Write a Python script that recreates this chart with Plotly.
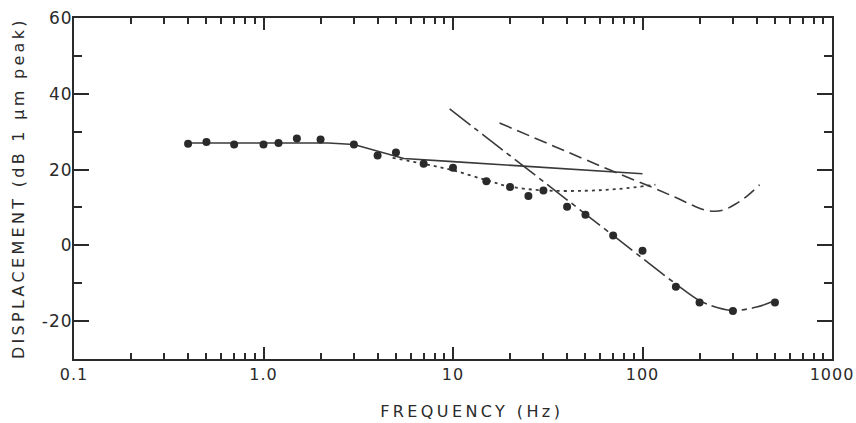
import plotly.graph_objects as go

# Measured points (frequency in Hz, displacement in dB re 1 um peak)
freq_pts = [0.4, 0.5, 0.7, 1.0, 1.2, 1.5, 2.0, 3.0, 4.0, 5.0, 7.0, 10, 15, 20, 25,
            30, 40, 50, 70, 100, 150, 200, 300, 500]
disp_pts = [26.8, 27.3, 26.6, 26.6, 27.0, 28.2, 27.9, 26.6, 23.7, 24.5, 21.5, 20.5,
            16.9, 15.4, 13.0, 14.5, 10.2, 8.1, 2.6, -1.4, -10.9, -15.1, -17.3, -15.1]

# Solid curve
solid_f = [0.4, 2.2, 3.0, 4.0, 5.5, 10, 28, 100]
solid_y = [27.0, 27.0, 26.6, 24.8, 22.9, 22.1, 20.7, 18.9]

# Dotted curve
dot_f = [4.8, 7.0, 10, 15, 20, 30, 50, 75, 117]
dot_y = [23.1, 21.5, 19.8, 17.2, 15.5, 14.5, 14.4, 14.9, 16.0]

# Dash-dot fit curve
fit_f = [9.6, 70, 150, 200, 250, 300, 400, 510]
fit_y = [36.0, 2.6, -10.2, -14.6, -16.5, -17.2, -16.3, -14.4]

# Long-dash curve
ld_f = [17.6, 68, 110, 150, 185, 215, 240, 270, 310, 360, 415]
ld_y = [32.3, 19.8, 15.5, 12.6, 10.5, 9.3, 9.0, 9.4, 10.9, 13.2, 16.0]

x_tickvals = [0.1, 1, 10, 100, 1000]
x_ticktext = ["0.1", "1.0", "10", "100", "1000"]
x_minor = [m * d for d in [0.1, 1, 10, 100] for m in range(2, 10)]
y_tickvals = [-20, 0, 20, 40, 60]
y_ticktext = ["-20", "0", "20", "40", "60"]
y_minor = [-10, 10, 30, 50]

INK = "#2a2a2a"
LINE = "#3a3a3a"
FONT = "DejaVu Sans"

fig = go.Figure()
fig.add_trace(go.Scatter(x=solid_f, y=solid_y, mode="lines",
                         line=dict(color=LINE, width=1.6), showlegend=False))
fig.add_trace(go.Scatter(x=dot_f, y=dot_y, mode="lines", line_shape="spline",
                         line=dict(color=LINE, width=1.8, dash="3px,4px"),
                         showlegend=False))
fig.add_trace(go.Scatter(x=fit_f, y=fit_y, mode="lines", line_shape="spline",
                         line=dict(color=LINE, width=1.6, dash="26px,5px,5px,5px"),
                         showlegend=False))
fig.add_trace(go.Scatter(x=ld_f, y=ld_y, mode="lines", line_shape="spline",
                         line=dict(color=LINE, width=1.6, dash="13px,6px"),
                         showlegend=False))
fig.add_trace(go.Scatter(x=freq_pts, y=disp_pts, mode="markers",
                         marker=dict(color=INK, size=8), showlegend=False))

fig.update_xaxes(type="log", range=[-1, 3], showgrid=False, zeroline=False,
                 showline=True, linecolor=INK, linewidth=2, mirror="allticks",
                 ticks="inside", ticklen=12, tickwidth=2, tickcolor=INK,
                 tickmode="array", tickvals=x_tickvals, ticktext=x_ticktext,
                 automargin=False, ticklabeloverflow="allow",
                 minor=dict(tickmode="array", tickvals=x_minor, ticks="inside",
                            ticklen=6, tickwidth=1.5, tickcolor=INK, showgrid=False),
                 tickfont=dict(family=FONT, size=16, color=INK))
fig.update_yaxes(range=[-30, 60], showgrid=False, zeroline=False,
                 showline=True, linecolor=INK, linewidth=2, mirror="allticks",
                 ticks="inside", ticklen=15, tickwidth=2, tickcolor=INK,
                 tickmode="array", tickvals=y_tickvals, ticktext=y_ticktext,
                 ticklabelstandoff=-4, automargin=False, ticklabeloverflow="allow",
                 minor=dict(tickmode="array", tickvals=y_minor, ticks="inside",
                            ticklen=8, tickwidth=1.5, tickcolor=INK, showgrid=False),
                 tickfont=dict(family=FONT, size=17, color=INK))

fig.add_annotation(text="FREQUENCY (Hz)", xref="paper", yref="paper",
                   x=0.524, y=0, yshift=-52, xanchor="center", yanchor="middle",
                   showarrow=False, font=dict(family=FONT, size=16, color=INK))
fig.add_annotation(text="DISPLACEMENT (dB 1 \u03bcm peak)", xref="paper", yref="paper",
                   x=0, xshift=-56, y=0.5, xanchor="center", yanchor="middle",
                   textangle=-90, showarrow=False,
                   font=dict(family=FONT, size=16, color=INK))

fig.update_layout(width=856, height=423, paper_bgcolor="white", plot_bgcolor="white",
                  margin=dict(l=74, r=24, t=18, b=64, autoexpand=False))

post = """
document.documentElement.style.overflow='hidden';
document.body.style.margin='0';
document.body.style.padding='0';
document.body.style.overflow='hidden';
function _sp(){
  var g=document.getElementById('{plot_id}');
  if(!g) return;
  g.querySelectorAll('.annotation-text').forEach(function(t){
    t.style.letterSpacing = t.textContent.indexOf('FREQ')===0 ? '3.4px' : '3.3px';
  });
  g.querySelectorAll('.xtick text').forEach(function(t){t.style.letterSpacing='1px';});
  g.querySelectorAll('.ytick text').forEach(function(t){t.style.letterSpacing='1px';});
}
_sp(); setTimeout(_sp, 50); setTimeout(_sp, 300);
"""
fig.write_html("out.html", post_script=post, config={"displayModeBar": False})
